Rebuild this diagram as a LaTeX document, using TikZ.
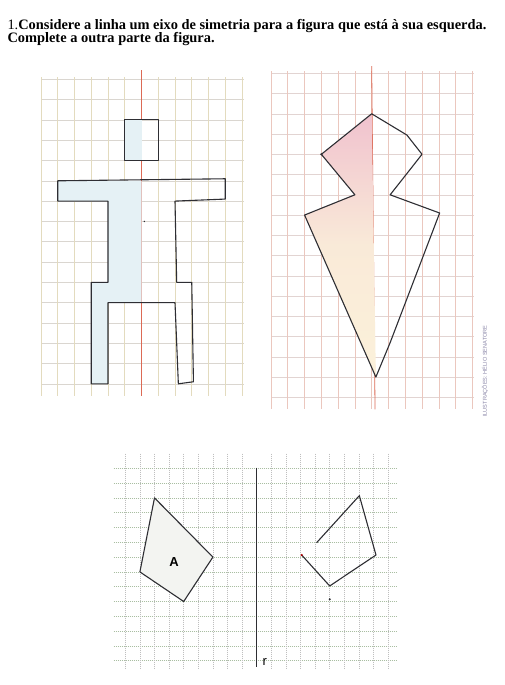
\documentclass[tikz,border=0pt]{standalone}
\usepackage{fontspec}
\setmainfont{Liberation Serif}
\setsansfont{Liberation Sans}
\usepackage{tikz}
\usetikzlibrary{positioning}
\usepackage{xcolor}
\definecolor{gridtan}{HTML}{E3DBBE}
\definecolor{gridgray}{HTML}{DAD6D0}
\definecolor{gridpink}{HTML}{EBC7BE}
\definecolor{gridrose}{HTML}{E2D4D2}
\definecolor{griddot}{HTML}{A9BEA2}
\definecolor{axisred}{HTML}{DC6A55}
\definecolor{figblue}{HTML}{E5F1F5}
\definecolor{figpink}{HTML}{F0C2CE}
\definecolor{figcream}{HTML}{FBF1DA}
\definecolor{figgray}{HTML}{F3F4F1}
\definecolor{inkgray}{HTML}{2E2E33}
\definecolor{creditgray}{HTML}{8A86A8}

\begin{document}
\begin{tikzpicture}[
    x=1pt, y=-1pt,
    every node/.style={inner sep=0pt},
    figline/.style={draw=inkgray, line width=1.1pt, line join=round},
    redaxis/.style={draw=axisred, line width=0.8pt},
    dotgrid/.style={draw=griddot, line width=0.5pt, dash pattern=on 1pt off 1pt}
]
    \useasboundingbox[fill=white] (0,0) rectangle (505,685);

    % Heading
    \node[anchor=base west, font=\fontsize{14.4}{16}\selectfont] (title1) at (7.3,29.5)
        {1.\textbf{Considere a linha um eixo de simetria para a figura que está à sua esquerda.}};
    \node[anchor=base west, font=\fontsize{14.4}{16}\selectfont\bfseries] (title2) at (7.3,42.5)
        {Complete a outra parte da figura.};

    % First grid: the little man
    \begin{scope}[shift={(41,79.3)}, x=16.75pt, y=-20.3pt]
        \foreach \i in {0,...,15}
            \draw[gridgray, line width=0.5pt] (0,\i) -- (12.1,\i);
        \foreach \j in {0,...,12}
            \draw[gridtan, line width=0.6pt] (\j,-0.1) -- (\j,15.6);
        \draw[redaxis] (6,-0.45) -- (6,15.6);
        % coloured half
        \fill[figblue] (5,2) rectangle (6,4);
        \fill[figblue] (1,5) -- (6,5) -- (6,11) -- (4,11) -- (4,15) -- (3,15)
            -- (3,10) -- (4,10) -- (4,6) -- (1,6) -- cycle;
        % outline
        \draw[figline] (5,2) rectangle (7,4);
        \draw[figline] (1,5) -- (11,4.9) -- (11,5.9) -- (8,6) -- (8.1,10) -- (9,10)
            -- (9.1,14.9) -- (8.2,15) -- (8,11) -- (4,11) -- (4,15) -- (3,15)
            -- (3,10) -- (4,10) -- (4,6) -- (1,6) -- cycle;
        \fill[inkgray] (6.17,7) circle (0.8pt);
    \end{scope}

    % Second grid: the kite
    \begin{scope}[shift={(271,73.3)}, x=16.78pt, y=-20.25pt]
        \foreach \i in {0,...,16}
            \draw[gridrose, line width=0.5pt] (0,\i) -- (12.1,\i);
        \foreach \j in {0,...,12}
            \draw[gridpink, line width=0.6pt] (\j,-0.1) -- (\j,16.6);
        \draw[redaxis] (6,-0.35) -- (6.2,16.6);
        % coloured half
        \shade[top color=figpink, bottom color=figcream, middle color=figcream!85!figpink]
            (6,2) -- (3,4) -- (5,6) -- (2,7) -- (6.25,15) -- cycle;
        % outline
        \draw[figline] (6,2) -- (3,4) -- (5,6) -- (2,7) -- (6.25,15)
            -- (7.1,13.3) -- (10.05,6.9) -- (7.1,6) -- (8.1,4.95) -- (9,4)
            -- (8.1,3.05) -- cycle;
        \fill[inkgray] (3,4) circle (1.2pt);
    \end{scope}

    % Credit
    \node[rotate=90, anchor=west, font=\sffamily\fontsize{5.6}{6}\selectfont, text=creditgray] (credit)
        at (485,417) {ILUSTRAÇÕES: HÉLIO SENATORE};

    % Third grid: figure A
    \begin{scope}[shift={(256.7,468.3)}, x=14.6pt, y=-14.8pt]
        \foreach \i in {0,...,13}
            \draw[dotgrid] (-9.8,\i) -- (9.6,\i);
        \foreach \j in {-9,...,-1,1,2,...,9}
            \draw[dotgrid, draw=gray!50] (\j,-1) -- (\j,13.5);
        \draw[inkgray, line width=1.3pt] (0,-0.05) -- (0,13.45);
        \node[font=\sffamily\fontsize{13}{15}\selectfont, anchor=base west] (rlabel) at (0.4,13.3) {r};
        % given figure
        \filldraw[figline, fill=figgray] (-7,2) -- (-3,6) -- (-5,9) -- (-8,7) -- cycle;
        \node[font=\sffamily\bfseries\fontsize{13}{15}\selectfont] (labelA) at (-5.66,6.3) {A};
        % pupil's copy
        \draw[figline] (3.08,5.86) -- (5,7.95) -- (8.17,5.86) -- (7.03,1.85) -- (4.1,5.03);
        \fill[red!70!black] (3.08,5.86) circle (1.2pt);
        \fill[inkgray] (5,8.85) circle (1.1pt);
    \end{scope}
\end{tikzpicture}
\end{document}
